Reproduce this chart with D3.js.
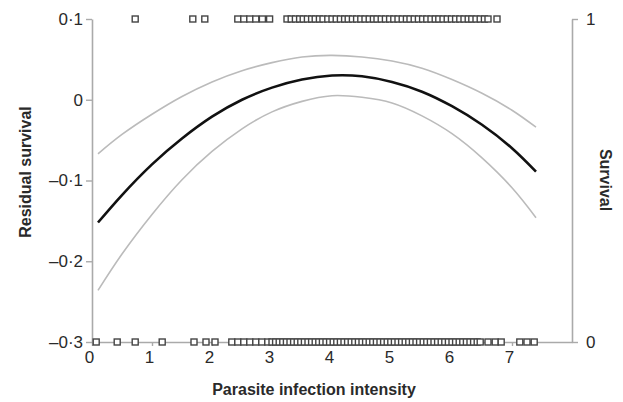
<!DOCTYPE html>
<html>
<head>
<meta charset="utf-8">
<script src="https://cdn.jsdelivr.net/npm/d3@7"></script>
<style>
  body { margin: 0; background: #fff; }
  svg text { font-family: "Liberation Sans", Arial, sans-serif; fill: #2a2a2a; }
  .title { font-weight: bold; font-size: 16px; }
  .tick text { font-size: 17px; }
</style>
</head>
<body>
<svg id="chart" width="623" height="402"></svg>
<script>
// intensity values where the fitted curves were read
var curveX = [0.1, 0.5, 1.0, 1.5, 2.0, 2.5, 3.0, 3.5, 4.0, 4.5, 5.0, 5.5, 6.0, 6.5, 7.0, 7.4];
var fitMean = [-0.152, -0.118, -0.080, -0.048, -0.021, 0.000, 0.015, 0.025, 0.030, 0.029, 0.022, 0.010, -0.008, -0.031, -0.060, -0.089];
var fitUpper = [-0.067, -0.043, -0.018, 0.004, 0.022, 0.036, 0.046, 0.053, 0.055, 0.053, 0.048, 0.039, 0.025, 0.008, -0.013, -0.034];
var fitLower = [-0.236, -0.191, -0.142, -0.099, -0.064, -0.036, -0.015, -0.002, 0.005, 0.003, -0.004, -0.020, -0.042, -0.072, -0.109, -0.146];

// observed birds: survived (1) and died (0), by infection intensity
var survived = [0.72, 1.68, 1.88, 2.43, 2.53, 2.63, 2.73, 2.84, 2.96,
  3.25, 3.32, 3.39, 3.46, 3.52, 3.59, 3.66, 3.72, 3.79, 3.85,
  3.93, 4.00, 4.07, 4.14, 4.21, 4.27, 4.34, 4.41, 4.48, 4.55, 4.62, 4.69, 4.75, 4.82,
  4.89, 4.96, 5.03, 5.10, 5.17, 5.24, 5.30, 5.37, 5.44, 5.51, 5.58, 5.65, 5.72, 5.78,
  5.85, 5.92, 5.99, 6.06, 6.13, 6.20, 6.27, 6.33, 6.40, 6.47, 6.54, 6.60, 6.75];
var died = [0.07, 0.42, 0.72, 1.17, 1.70, 1.90, 2.05, 2.33, 2.43, 2.53, 2.63, 2.73, 2.83, 2.93,
  3.00, 3.06, 3.12, 3.18, 3.24, 3.30, 3.36, 3.42, 3.48, 3.54, 3.60, 3.66, 3.72, 3.78,
  3.84, 3.90, 3.96, 4.02, 4.08, 4.14, 4.20, 4.26, 4.32, 4.38, 4.44, 4.50, 4.56, 4.62,
  4.68, 4.74, 4.80, 4.86, 4.92, 4.98, 5.04, 5.10, 5.16, 5.22, 5.28, 5.34, 5.40, 5.46,
  5.52, 5.58, 5.64, 5.70, 5.76, 5.82, 5.88, 5.94, 6.00, 6.06, 6.12, 6.18, 6.24, 6.30,
  6.36, 6.42, 6.47, 6.60, 6.72, 6.82, 7.13, 7.25, 7.37];

var xTicks = [0, 1, 2, 3, 4, 5, 6, 7];
var yTicks = [0.1, 0, -0.1, -0.2, -0.3];
var y2Ticks = [0, 1];

(function() {
var svg = d3.select("#chart");
var mLeft = 92, mRight = 572, mTop = 19, mBottom = 342;

var x = d3.scaleLinear().domain([0, 8]).range([mLeft, mRight]);
var y = d3.scaleLinear().domain([-0.3, 0.1]).range([mBottom, mTop]);
var y2 = d3.scaleLinear().domain([0, 1]).range([mBottom, mTop]);

function fmt(v) {
  // journal style: middle dot decimal, en dash minus
  if (v === 0) return "0";
  var s = Math.abs(v).toFixed(1).replace(".", "\u00b7");
  return (v < 0 ? "\u2013" : "") + s;
}

function styleAxis(g) {
  g.select(".domain").attr("stroke", "#aaa").attr("stroke-width", 1.6);
  g.selectAll(".tick line").attr("stroke", "#aaa").attr("stroke-width", 1.4);
  g.selectAll(".tick text").attr("fill", "#2a2a2a");
}

// x axis
var xAxis = d3.axisBottom(x).tickValues(xTicks).tickSize(4).tickPadding(5).tickSizeOuter(0);
svg.append("g")
  .attr("transform", "translate(0," + mBottom + ")")
  .call(xAxis)
  .call(styleAxis)
  .call(function(g) { g.selectAll(".tick text").attr("dx", "-3"); });

// left axis
var yAxis = d3.axisLeft(y).tickValues(yTicks).tickFormat(fmt).tickSize(6).tickPadding(3).tickSizeOuter(0);
svg.append("g")
  .attr("transform", "translate(" + mLeft + ",0)")
  .call(yAxis)
  .call(styleAxis);

// right axis
var y2Axis = d3.axisRight(y2).tickValues(y2Ticks).tickFormat(d3.format("d"))
  .tickSize(6).tickPadding(8).tickSizeOuter(0);
svg.append("g")
  .attr("transform", "translate(" + mRight + ",0)")
  .call(y2Axis)
  .call(styleAxis);

// fitted curves
var line = d3.line()
  .curve(d3.curveNatural)
  .x(function(d) { return x(d[0]); })
  .y(function(d) { return y(d[1]); });

function pairs(vals) { return curveX.map(function(v, i) { return [v, vals[i]]; }); }

svg.append("path").datum(pairs(fitUpper))
  .attr("d", line).attr("fill", "none").attr("stroke", "#bbb").attr("stroke-width", 1.6);
svg.append("path").datum(pairs(fitLower))
  .attr("d", line).attr("fill", "none").attr("stroke", "#bbb").attr("stroke-width", 1.6);
svg.append("path").datum(pairs(fitMean))
  .attr("d", line).attr("fill", "none").attr("stroke", "#111").attr("stroke-width", 2.6);

// observations
var sq = 6;
function drawRow(vals, surv) {
  svg.append("g").selectAll("rect")
    .data(vals)
    .enter().append("rect")
    .attr("x", function(d) { return x(d) - sq / 2; })
    .attr("y", y2(surv) - sq / 2)
    .attr("width", sq)
    .attr("height", sq)
    .attr("fill", "#fff")
    .attr("stroke", "#444")
    .attr("stroke-width", 1.4);
}
drawRow(survived, 1);
drawRow(died, 0);

// titles
svg.append("text").attr("class", "title")
  .attr("x", 314).attr("y", 395)
  .attr("text-anchor", "middle")
  .text("Parasite infection intensity");

svg.append("text").attr("class", "title")
  .attr("transform", "translate(31,172) rotate(-90)")
  .attr("text-anchor", "middle")
  .text("Residual survival");

svg.append("text").attr("class", "title")
  .attr("transform", "translate(600,180) rotate(90)")
  .attr("text-anchor", "middle")
  .text("Survival");
})();
</script>
</body>
</html>
